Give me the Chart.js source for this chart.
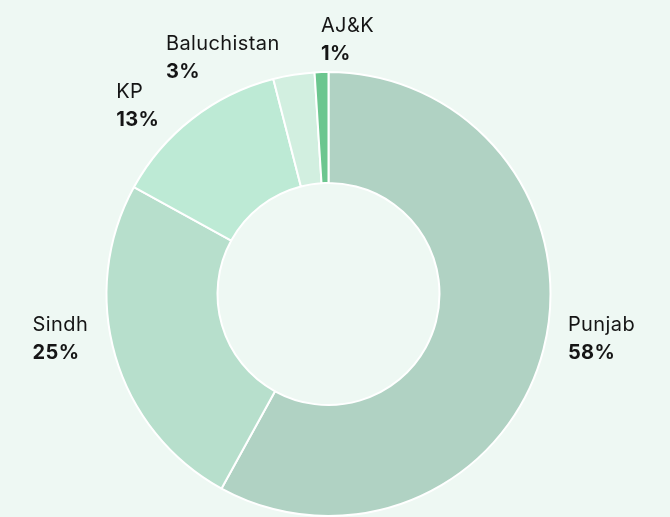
<!DOCTYPE html>
<html>

<head>
  <title>Province Share Doughnut</title>
  <script src="https://cdn.jsdelivr.net/npm/chart.js"></script>
  <style>
    html, body { margin: 0; padding: 0; background: #eef8f3; }
    canvas { display: block; }
  </style>
</head>

<body>
  <canvas id="shareChart" width="670" height="517"></canvas>

  <script>
    // data
    const provinces = ['Punjab', 'Sindh', 'KP', 'Baluchistan', 'AJ&K'];
    const shares = [58, 25, 13, 3, 1];
    const sliceColors = ['#b0d2c3', '#b7dfcc', '#bdead5', '#d2efe0', '#6cc68f'];

    // small per-label nudges so the labels sit like the original
    const labelNudge = [
      { dx: -1, dy: -16 },
      { dx: -2, dy: -23 },
      { dx: -15, dy: 3 },
      { dx: -5, dy: 3 },
      { dx: -6, dy: -13 },
    ];

    // draws "name / NN%" outside each slice
    const outsideLabels = {
      id: 'outsideLabels',
      afterDatasetsDraw(chart) {
        const ctx = chart.ctx;
        const meta = chart.getDatasetMeta(0);
        meta.data.forEach((arc, i) => {
          const p = arc.getProps(['x', 'y', 'startAngle', 'endAngle', 'outerRadius'], true);
          const mid = (p.startAngle + p.endAngle) / 2;
          const r = p.outerRadius + 20;
          const ax = p.x + Math.cos(mid) * r;
          const ay = p.y + Math.sin(mid) * r;

          const name = provinces[i];
          const pct = shares[i] + '%';
          ctx.save();
          ctx.fillStyle = '#151515';
          ctx.textBaseline = 'alphabetic';
          ctx.letterSpacing = '0.4px';
          ctx.font = '400 20px Inter';
          const w1 = ctx.measureText(name).width;
          ctx.font = '700 20px Inter';
          const w2 = ctx.measureText(pct).width;
          const w = Math.max(w1, w2);

          const rightSide = Math.cos(mid) > -0.05;
          let x = rightSide ? ax + 6 : ax - 6 - w;
          x += labelNudge[i].dx;
          const yb = ay - 7.5 + labelNudge[i].dy;

          ctx.textAlign = 'left';
          ctx.font = '400 20px Inter';
          ctx.fillText(name, x, yb);
          ctx.font = '700 20px Inter';
          ctx.fillText(pct, x, yb + 28);
          ctx.restore();
        });
      }
    };

    const ctx = document.getElementById('shareChart').getContext('2d');
    const shareChart = new Chart(ctx, {
      type: 'doughnut',
      data: {
        labels: provinces,
        datasets: [
          {
            data: shares,
            backgroundColor: sliceColors,
            borderColor: '#ffffff',
            borderWidth: 2,
            hoverOffset: 0,
          }
        ]
      },
      options: {
        responsive: false,
        animation: false,
        cutout: '50%',
        events: [],
        layout: {
          padding: { top: 71, right: 13, bottom: 0, left: 0 }
        },
        plugins: {
          legend: { display: false },
          tooltip: { enabled: false },
        },
      },
      plugins: [outsideLabels],
    });
  </script>
</body>

</html>
